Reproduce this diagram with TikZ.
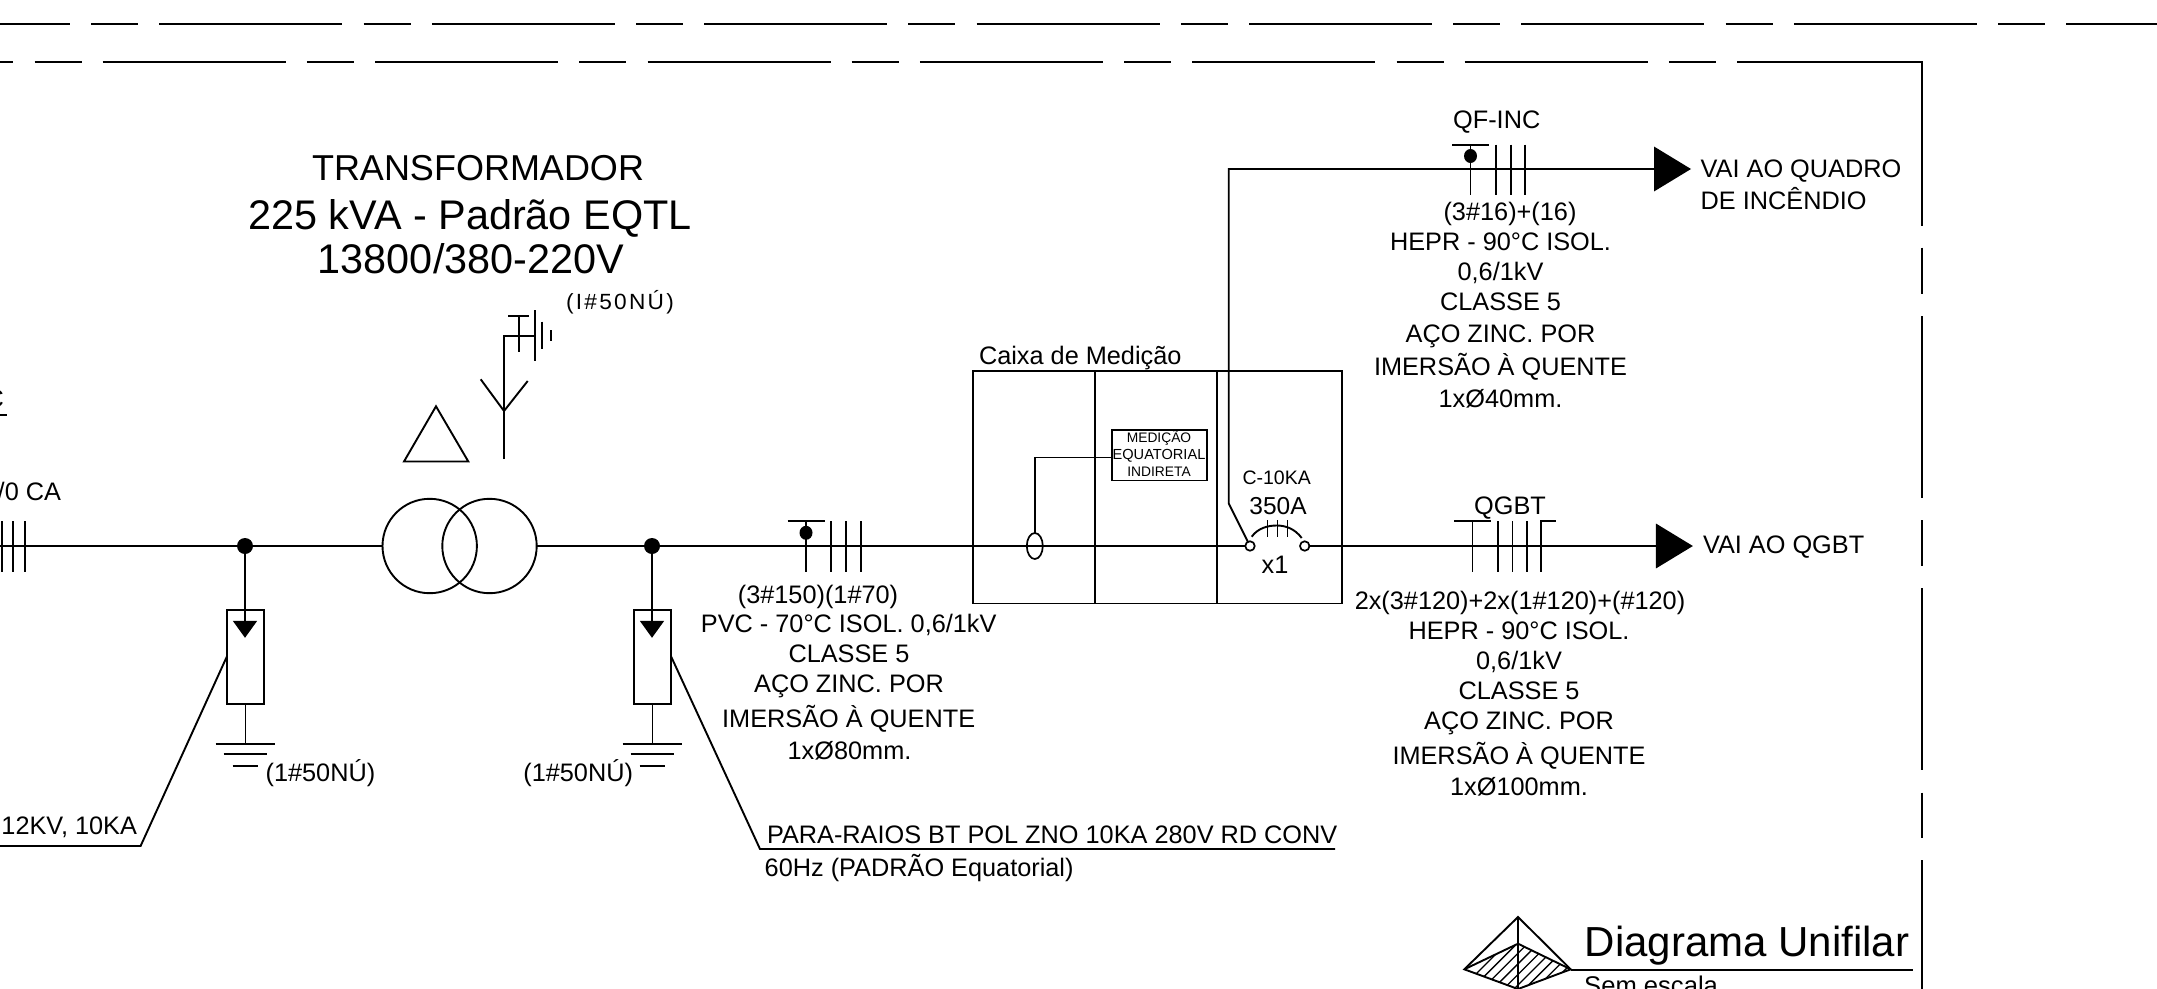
\documentclass[tikz,border=0pt]{standalone}
\usepackage{fontspec}
\setmainfont{Liberation Sans}
\usetikzlibrary{arrows.meta,shapes.geometric}
\newcommand{\fsz}[1]{\fontsize{#1}{#1}\selectfont}
\tikzset{
  wire/.style={line width=1.9pt,line cap=butt,line join=miter},
  thin wire/.style={line width=1.5pt},
  frame line/.style={line width=1.7pt,dash pattern=on 183pt off 21.2pt on 47pt off 21.2pt},
  frame solid/.style={line width=1.9pt},
  lb/.style={inner sep=0pt,outer sep=0pt,anchor=center,font=\fsz{25.3},text height=18pt,text depth=0pt},
  lbl/.style={lb,anchor=west},
  lbr/.style={lb,anchor=east},
  title/.style={inner sep=0pt,anchor=center,font=\fsz{36},text height=25.8pt,text depth=0pt},
  titleb/.style={inner sep=0pt,anchor=center,font=\fsz{41.4},text height=29.6pt,text depth=0pt},
  small/.style={inner sep=0pt,anchor=center,font=\fsz{13.8},text height=9.9pt,text depth=0pt},
  xfmr/.style={draw,circle,line width=1.9pt,minimum size=94.4pt,inner sep=0pt,outer sep=0pt},
  arrester/.style={draw,rectangle,line width=1.9pt,minimum width=37.5pt,minimum height=94.3pt,inner sep=0pt,outer sep=0pt},
  junction/.style={fill,circle,minimum size=16pt,inner sep=0pt,outer sep=0pt},
  smalldot/.style={fill,ellipse,minimum width=13pt,minimum height=14pt,inner sep=0pt},
  term/.style={draw,circle,line width=1.7pt,minimum size=9.5pt,inner sep=0pt,outer sep=0pt},
  bigarrow/.style={wire,-{Triangle[length=37pt,width=44.5pt]}},
  smallarrow/.style={wire,-{Triangle[length=17pt,width=24pt]}}
}
\begin{document}
\begin{tikzpicture}[x=1pt,y=-1pt]
\useasboundingbox (0,0) rectangle (2157,988);
\clip (0,0) rectangle (2157,988);

% border frame
\draw[frame line] (-113,24) -- (2160,24);
\draw[frame line] (-169.7,62) -- (1735,62);
\draw[frame solid] (1737,62) -- (1922,62) -- (1922,225.6);
\draw[frame solid] (1922,247.6) -- (1922,294);
\draw[frame solid] (1922,316) -- (1922,498);
\draw[frame solid] (1922,520) -- (1922,566);
\draw[frame solid] (1922,588) -- (1922,770);
\draw[frame solid] (1922,792.7) -- (1922,838);
\draw[frame solid] (1922,860) -- (1922,990);

% cut-off labels at left
\node[lbr] (fragc) at (4,398) {C};
\draw[wire] (0,415) -- (7.4,415);
\node[lbr] (fragca) at (61,491) {/0 CA};
\node[lbr] (frag12) at (137,825) {12KV, 10KA};

% titles
\node[title] (t1) at (478,168) {TRANSFORMADOR};
\node[titleb] (t2) at (470,214.6) {225 kVA - Padrão EQTL};
\node[titleb] (t3) at (471,258.7) {13800/380-220V};

% nodes on the bus
\coordinate (busL) at (0,546);
\node[junction] (d1) at (245,546) {};
\node[xfmr] (x1) at (429.7,546) {};
\node[xfmr] (x2) at (489.5,546) {};
\node[junction] (d2) at (652,546) {};
\draw[wire] (busL) -- (d1.center) -- (x1.west);
\draw[wire] (x2.east) -- (d2.center);

% left ticks
\foreach \xx in {2,13,25} \draw[thin wire] (\xx,521) -- (\xx,572);

% delta and wye
\draw[wire,line join=miter] (404,461.5) -- (436,406.3) -- (468.3,461.5) -- cycle;
\coordinate (yb) at (504,459);
\coordinate (yj) at (504,411);
\coordinate (yt) at (504,335.7);
\coordinate (yg) at (535,335.7);
\draw[wire] (yb) -- (yj) -- (yt) -- (yg);
\draw[wire] (480.7,379.3) -- (yj) -- (527.7,381);
\draw[wire] (518.7,351.7) -- (518.7,315.7);
\draw[wire] (508.3,315.7) -- (529,315.7);
\draw[wire] (535,310) -- (535,361);
\draw[wire] (542.3,321.7) -- (542.3,349.3);
\draw[wire] (551.3,330) -- (551.3,341);
\node[inner sep=0pt,font=\fsz{22}\addfontfeatures{LetterSpace=10},text height=15.8pt,text depth=0pt] (nu3) at (620,302) {\scalebox{1.03}[1]{(I\#50NÚ)}};

% arresters
\node[arrester] (a1) at (245.5,656.8) {};
\node[arrester] (a2) at (652.5,656.8) {};
\coordinate (a1tip) at (245,637.8);
\coordinate (a2tip) at (652,637.8);
\draw[smallarrow] (d1.center) -- (a1tip);
\draw[smallarrow] (d2.center) -- (a2tip);
\coordinate (g1) at (245.5,744);
\coordinate (g2) at (652.5,744);
\draw[wire] (a1.south) -- (g1);
\draw[wire] (a2.south) -- (g2);
\foreach \cx in {245,652}{
  \draw[wire] (\cx-29.5,744) -- (\cx+29.5,744);
  \draw[wire] (\cx-21.5,754) -- (\cx+21.5,754);
  \draw[wire] (\cx-12.5,766) -- (\cx+12.5,766);
}
\node[lbl] (nu1) at (265.6,772) {(1\#50NÚ)};
\node[lbr] (nu2) at (633,772) {(1\#50NÚ)};

% arrester leaders
\coordinate (l1) at (140.6,846);
\coordinate (l1e) at (-2,846);
\draw[wire] (a1.west) -- (l1) -- (l1e);
\coordinate (l2) at (760,849);
\coordinate (l2e) at (1335,849);
\draw[wire] (a2.east) -- (l2) -- (l2e);
\node[lbl] (para) at (767,834) {PARA-RAIOS BT POL ZNO 10KA 280V RD CONV};
\node[lbl] (hz) at (764.7,867) {60Hz (PADRÃO Equatorial)};

% cable 1 ticks
\draw[wire] (787.5,520.7) -- (825,520.7);
\draw[wire] (806,520.7) -- (806,571.7);
\node[smalldot] (sd1) at (806,532.8) {};
\foreach \xx in {831,846,860.7} \draw[wire] (\xx,521) -- (\xx,571.7);

\node[lb] (b1a) at (818,594) {(3\#150)(1\#70)};
\node[lb] (b1b) at (848.7,623.4) {PVC - 70°C ISOL. 0,6/1kV};
\node[lb] (b1c) at (849,653.4) {CLASSE 5};
\node[lb] (b1d) at (849,683.8) {AÇO ZINC. POR};
\node[lb] (b1e) at (848.7,718.3) {IMERSÃO À QUENTE};
\node[lb] (b1f) at (849.5,750) {1xØ80mm.};

% metering box
\node[draw,rectangle,line width=1.9pt,minimum width=369.6pt,minimum height=232.5pt,inner sep=0pt,outer sep=0pt] (cx) at (1157.6,487.2) {};
\draw[wire] (1095.3,371) -- (1095.3,603.4);
\draw[wire] (1216.7,371) -- (1216.7,603.4);
\node[lbl] (cxt) at (979,355.7) {Caixa de Medição};
\node[draw,ellipse,line width=1.7pt,minimum width=16pt,minimum height=26pt,inner sep=0pt,outer sep=0pt] (ct) at (1034.8,546) {};
\node[draw,rectangle,line width=1.7pt,minimum width=95pt,minimum height=50.3pt,inner sep=0pt,outer sep=0pt] (med) at (1159.2,455.2) {};
\node[small] (m1) at (1159,438) {MEDIÇÃO};
\node[small,font=\fsz{14.6}] (m2) at (1159,455) {EQUATORIAL};
\node[small] (m3) at (1159,472) {INDIRETA};
\coordinate (ctc) at (1034.8,457.5);
\coordinate (medp) at (1111.7,457.5);
\draw[wire] (ct.north) -- (ctc) -- (medp);

% breaker
\node[term] (k1) at (1250,546) {};
\node[term] (k2) at (1304.7,546) {};
\draw[wire] (d2.center) -- (k1.west);
\coordinate (qgbtend) at (1692.9,546);
\draw[bigarrow] (k2.east) -- (qgbtend);
\draw[wire] (1251.7,536.7) .. controls (1258,528) and (1268,525.5) .. (1276.7,525.5) .. controls (1286,525.5) and (1295,529) .. (1301.7,538);
\foreach \xx in {1267.7,1277.3,1287.3} \draw[thin wire] (\xx,520) -- (\xx,536.5);
\node[lb,font=\fsz{19.5},text height=14pt] (c10) at (1276.7,477) {C-10KA};
\node[lb,font=\fsz{24.5}] (a350) at (1278,505.7) {350A};
\node[lb] (x1t) at (1275,564) {x1};

% fire branch
\coordinate (bd) at (1228.7,503.3);
\coordinate (bc) at (1228.7,169);
\coordinate (inctip) at (1691,169);
\draw[bigarrow] (k1) -- (bd) -- (bc) -- (inctip);
\draw[wire] (1452,144.7) -- (1489.4,144.7);
\draw[wire] (1470.5,144.7) -- (1470.5,195);
\node[smalldot] (sd2) at (1470.5,156) {};
\foreach \xx in {1496,1510.7,1525.3} \draw[wire] (\xx,144.7) -- (\xx,195);
\node[lb] (qf) at (1496.7,119) {QF-INC};
\node[lbl] (vq1) at (1700.7,168) {VAI AO QUADRO};
\node[lbl] (vq2) at (1700.7,200.7) {DE INCÊNDIO};
\node[lb] (i1) at (1510,211.7) {(3\#16)+(16)};
\node[lb] (i2) at (1500.5,241.7) {HEPR - 90°C ISOL.};
\node[lb] (i3) at (1500.5,271.7) {0,6/1kV};
\node[lb] (i4) at (1500.5,301.7) {CLASSE 5};
\node[lb] (i5) at (1500.5,333.3) {AÇO ZINC. POR};
\node[lb] (i6) at (1500.5,366) {IMERSÃO À QUENTE};
\node[lb] (i7) at (1500.5,398.3) {1xØ40mm.};

% QGBT ticks
\draw[wire] (1454,521) -- (1491.4,521);
\draw[wire] (1472.5,521) -- (1472.5,571.7);
\foreach \xx in {1498,1512.5,1526.8} \draw[wire] (\xx,521) -- (\xx,571.7);
\draw[wire] (1541.4,571.7) -- (1541.4,521) -- (1555.7,521);
\node[lb] (qg) at (1510,505) {QGBT};
\node[lbl] (vqg) at (1703,544) {VAI AO QGBT};
\node[lb] (q1) at (1520,600) {2x(3\#120)+2x(1\#120)+(\#120)};
\node[lb] (q2) at (1519,630) {HEPR - 90°C ISOL.};
\node[lb] (q3) at (1519,660) {0,6/1kV};
\node[lb] (q4) at (1519,690) {CLASSE 5};
\node[lb] (q5) at (1519,720) {AÇO ZINC. POR};
\node[lb] (q6) at (1519,755) {IMERSÃO À QUENTE};
\node[lb] (q7) at (1519,786) {1xØ100mm.};

% title block
\begin{scope}
  \clip (1464.3,969.3) -- (1518,943.7) -- (1570.7,969.3) -- (1518,990) -- cycle;
  \foreach \k in {0,...,14} \draw[line width=1.3pt] (1455+\k*10.6,995) -- (1455+\k*10.6+70,925);
\end{scope}
\draw[wire] (1464.3,969.3) -- (1518,917) -- (1570.7,969.3) -- (1518,989) -- cycle;
\draw[wire] (1464.3,969.3) -- (1518,943.7) -- (1570.7,969.3);
\draw[wire] (1518,917) -- (1518,990);
\draw[wire] (1570.7,969.7) -- (1912.5,969.7);
\node[inner sep=0pt,anchor=base west,font=\fsz{42}] (dg) at (1584.6,956) {Diagrama Unifilar};
\node[inner sep=0pt,anchor=base west,font=\fsz{25.6}] (se) at (1584,994.3) {Sem escala};
\end{tikzpicture}
\end{document}
